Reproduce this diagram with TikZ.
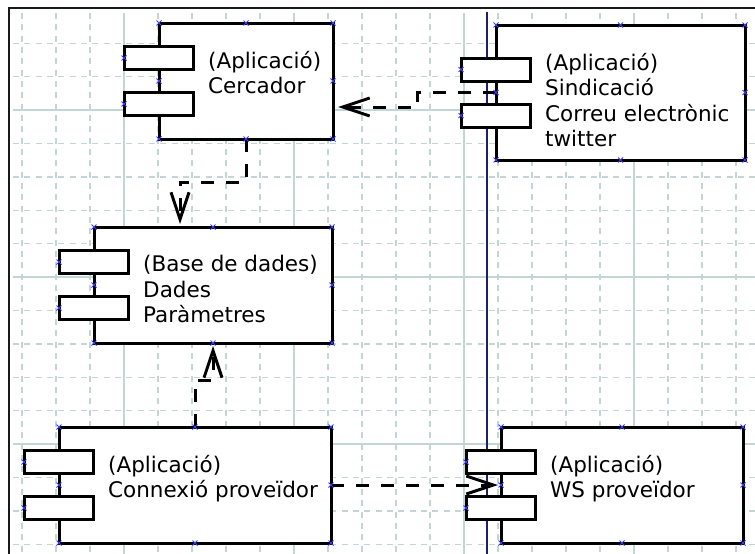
\documentclass[tikz,border=0pt]{standalone}
\usepackage{fontspec}
\setmainfont{DejaVu Sans}
\usetikzlibrary{arrows.meta,positioning}

\definecolor{gridcol}{RGB}{196,214,212}
\definecolor{sepcol}{RGB}{30,30,110}
\definecolor{cptcol}{RGB}{60,60,255}

\tikzset{
  comp/.style 2 args={draw,line width=3pt,fill=white,inner sep=0pt,outer sep=0pt,
    minimum width=#1,minimum height=#2},
  port/.style={draw,line width=3pt,fill=white},
  ctext/.style={anchor=north west,align=left,inner sep=0pt,
    font=\fontsize{21.5pt}{25.5pt}\selectfont},
  dep/.style={line width=3pt,dash pattern=on 13pt off 12pt,
    -{Straight Barb[length=27pt,width=18pt]}},
  cpt/.style={draw=cptcol,line width=0.8pt},
  gridminor/.style={gridcol,line width=1.4pt,dash pattern=on 6pt off 5.33pt},
  gridmajor/.style={gridcol,line width=1.4pt},
}

\begin{document}
\begin{tikzpicture}[x=1pt,y=-1pt,node distance=2cm,on grid]
  \useasboundingbox (0,0) rectangle (755,554);
  % grid
  \foreach \i in {0,...,21}
    \draw[gridminor] ({22+34*\i},13) -- ({22+34*\i},554);
  \foreach \j in {0,...,15}
    \draw[gridminor] (13,{43.2+33.4*\j}) -- (755,{43.2+33.4*\j});
  \foreach \gx in {124,294,464,634}
    \draw[gridmajor] (\gx,13) -- (\gx,554);
  \foreach \gy in {110,277,444}
    \draw[gridmajor] (13,\gy) -- (755,\gy);
  \draw[line width=2pt,black!90] (9,554) -- (9,8) -- (755,8);
  \draw[sepcol,line width=1.8pt] (487,12) -- (487,554);

  % components
  \node[comp={174pt}{116pt}] (cercador) at (246,81) {};
  \node[comp={249pt}{135pt}] (sindic) [below right=11.5pt and 374.5pt of cercador] {};
  \node[comp={238pt}{116pt}] (base) [below left=204pt and 33pt of cercador] {};
  \node[comp={272pt}{116pt}] (connex) [below left=200pt and 18pt of base] {};
  \node[comp={242pt}{116pt}] (ws) [right=427pt of connex] {};

  \node[ctext] (cercador-txt) at ([xshift=49pt,yshift=-28pt]cercador.north west)
    {(Aplicació)\\Cercador};
  \node[ctext] (sindic-txt) at ([xshift=49pt,yshift=-28pt]sindic.north west)
    {(Aplicació)\\Sindicació\\Correu electrònic\\twitter};
  \node[ctext] (base-txt) at ([xshift=49pt,yshift=-28pt]base.north west)
    {(Base de dades)\\Dades\\Paràmetres};
  \node[ctext] (connex-txt) at ([xshift=49pt,yshift=-28pt]connex.north west)
    {(Aplicació)\\Connexió proveïdor};
  \node[ctext] (ws-txt) at ([xshift=49pt,yshift=-28pt]ws.north west)
    {(Aplicació)\\WS proveïdor};

  \foreach \c in {cercador,sindic,base,connex,ws}{
    \draw[port] ([xshift=-35pt,yshift=11.5pt]\c.west) rectangle ++(69pt,23pt);
    \draw[port] ([xshift=-35pt,yshift=-11.5pt]\c.west) rectangle ++(69pt,-23pt);
  }

  % dependencies
  \draw[dep] (sindic.west) -- ++(-79pt,0pt) |- ([xshift=5pt,yshift=-26pt]cercador.east);
  \draw[dep] (cercador.south) -- ++(0pt,-43pt) -| ([xshift=-33pt,yshift=3pt]base.north);
  \draw[dep] (connex.north) -- ++(0pt,47pt) -| ([yshift=-3pt]base.south);
  \draw[dep] (connex.east) -- ([xshift=-3pt]ws.west);

  % connection points
  \foreach \c in {cercador,sindic,base,connex,ws}{
    \foreach \a in {north west,north,north east,east,south east,south,south west,west}
      \draw[cpt] (\c.\a) +(-2.5pt,-2.5pt) -- +(2.5pt,2.5pt) +(-2.5pt,2.5pt) -- +(2.5pt,-2.5pt);
    \foreach \s in {23pt,-23pt}
      \draw[cpt] ([xshift=-35pt,yshift=\s]\c.west) +(-2.5pt,-2.5pt) -- +(2.5pt,2.5pt)
        +(-2.5pt,2.5pt) -- +(2.5pt,-2.5pt);
  }
\end{tikzpicture}
\end{document}
